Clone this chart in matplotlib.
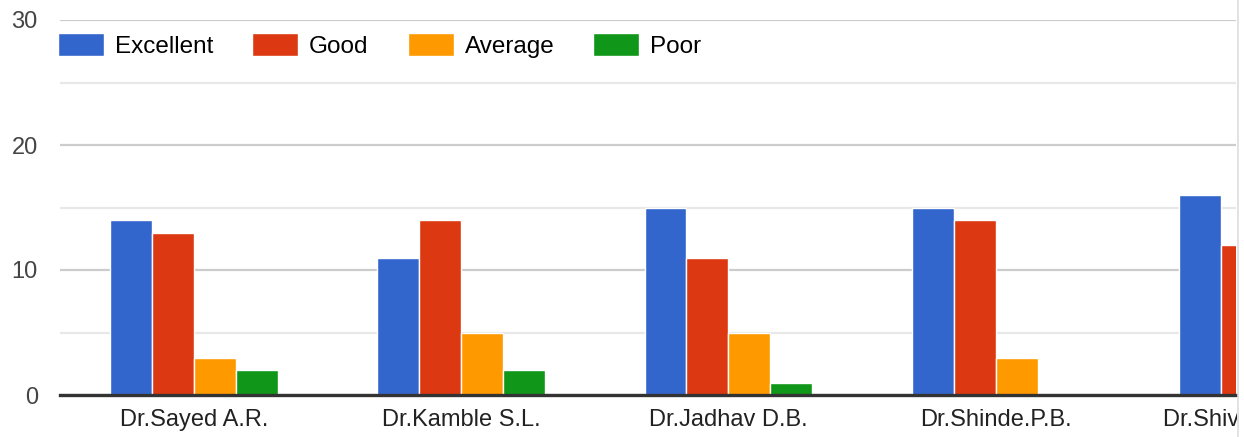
import matplotlib.pyplot as plt
import numpy as np
from matplotlib.lines import Line2D
from matplotlib.transforms import Bbox, TransformedBbox

plt.rcParams['font.family'] = ['Liberation Sans', 'DejaVu Sans']

# data
teachers = ['Dr.Sayed A.R.', 'Dr.Kamble S.L.', 'Dr.Jadhav D.B.', 'Dr.Shinde.P.B.', 'Dr.Shivsharan S.B.']
excellent = [14, 11, 15, 15, 16]
good = [13, 14, 11, 14, 12]
average = [3, 5, 5, 3, 0]
poor = [2, 2, 1, 0, 0]
series = ['Excellent', 'Good', 'Average', 'Poor']
colors = ['#3366cc', '#dc3912', '#ff9900', '#109618']

W, H = 1244, 437
fig = plt.figure(figsize=(W / 100, H / 100), dpi=100)
ax = fig.add_axes([60 / W, (H - 395) / H, (1236 - 60) / W, 375 / H])

x = np.arange(len(teachers))
bw = 0.157
for k, (vals, c, name) in enumerate(zip([excellent, good, average, poor], colors, series)):
    ax.bar(x + (k - 1.5) * bw, vals, bw, color=c, edgecolor='white', linewidth=1,
           label=name, zorder=3)

ax.set_xticks(x[:4])
ax.set_xticklabels(teachers[:4])
ax.set_xlim(-0.502, 3.90)  # last group is cut off in the screenshot
ax.set_ylim(0, 30)
ax.set_yticks([0, 10, 20, 30])
ax.set_yticks([5, 15, 25], minor=True)
ax.grid(axis='y', which='major', color='#cccccc', linewidth=1.6, zorder=0)
ax.grid(axis='y', which='minor', color='#e8e8e8', linewidth=1.6, zorder=0)
ax.axhline(0, color='#333333', linewidth=2.4, zorder=4, clip_on=False)
for s in ax.spines.values():
    s.set_visible(False)

ax.tick_params(axis='both', which='both', length=0, labelsize=17, labelcolor='#222222')
ax.tick_params(axis='x', pad=10)
ax.tick_params(axis='y', pad=16)
for t in ax.get_yticklabels():
    t.set_color('#444444')

# last category label, cut at the right border like the screenshot
last = ax.annotate(teachers[4], xy=(x[4], 0), xycoords=('data', 'axes fraction'),
                   xytext=(0, -10), textcoords='offset points', ha='center', va='top',
                   fontsize=17, color='#222222', annotation_clip=False)
last.set_clip_box(TransformedBbox(Bbox([[0, 0], [1236.5 / W, 1]]), fig.transFigure))
last.set_clip_on(True)

fig.add_artist(Line2D([1237.5 / W, 1237.5 / W], [0, 1], color='#dddddd', linewidth=1.2))

ax.legend(loc='upper left', bbox_to_anchor=(-0.002, 0.965), ncol=4, frameon=False,
          fontsize=17.5, handlelength=1.9, handleheight=1.1, handletextpad=0.45,
          columnspacing=1.6, borderpad=0, borderaxespad=0)

fig.savefig('out.png', dpi=100)
